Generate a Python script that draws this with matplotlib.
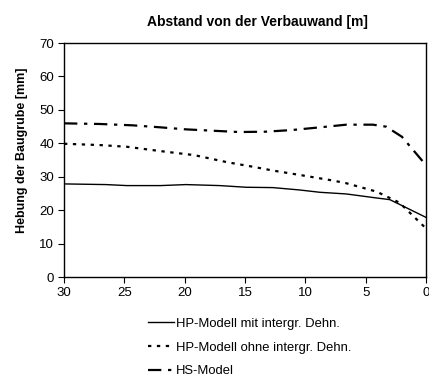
import matplotlib
matplotlib.use("Agg")
import matplotlib.pyplot as plt

plt.rcParams['font.family'] = ['Liberation Sans', 'DejaVu Sans']

# distance from the retaining wall [m]
dist_hp = [30, 26.5, 24.8, 22, 19.9, 17.1, 14.9, 12.7, 10.5, 8.8, 6.6, 4.1, 3.0, 2.2, 0]
hp_mit = [27.9, 27.7, 27.4, 27.4, 27.7, 27.4, 26.9, 26.8, 26.1, 25.4, 24.9, 23.7, 23.2, 21.8, 17.9]

dist_ohne = [30, 27.0, 24.8, 22.0, 19.2, 16.5, 14.3, 12.7, 10.5, 7.7, 6.6, 4.1, 2.2, 0]
hp_ohne = [39.9, 39.5, 39.0, 37.7, 36.5, 34.4, 33.0, 31.9, 30.6, 28.9, 28.1, 25.6, 22.3, 14.6]

dist_hs = [30, 27.0, 24.3, 22.0, 19.9, 17.7, 15.5, 13.3, 11.1, 8.8, 6.6, 4.4, 3.3, 2.0, 0]
hs_model = [46.0, 45.8, 45.4, 44.8, 44.2, 43.8, 43.4, 43.5, 44.0, 44.8, 45.6, 45.6, 45.0, 42.0, 33.5]

x_ticks = [30, 25, 20, 15, 10, 5, 0]
y_ticks = [0, 10, 20, 30, 40, 50, 60, 70]

fig = plt.figure(figsize=(4.29, 3.74), dpi=100)
ax = fig.add_axes([64 / 429, 1 - 277.3 / 374, (426 - 64) / 429, (277.3 - 43) / 374])

ax.plot(dist_hp, hp_mit, color='black', lw=1.0, ls='-',
        label='HP-Modell mit intergr. Dehn.')
ax.plot(dist_ohne, hp_ohne, color='black', lw=1.6, ls=(0, (1.5, 2.5)),
        label='HP-Modell ohne intergr. Dehn.')
ax.plot(dist_hs, hs_model, color='black', lw=1.6, ls=(0, (6, 3, 1.5, 3)),
        label='HS-Model')

ax.set_xlim(30, 0)
ax.set_ylim(0, 70)
ax.set_xticks(x_ticks)
ax.set_yticks(y_ticks)
ax.tick_params(direction='out', length=4, width=0.8, labelsize=9.5, pad=3)
for s in ax.spines.values():
    s.set_linewidth(1.0)

ax.set_ylabel('Hebung der Baugrube [mm]', fontsize=9, fontweight='bold')
ax.yaxis.set_label_coords(-0.100, 0.541)
fig.text(257 / 429, 1 - 22 / 374, 'Abstand von der Verbauwand [m]',
         ha='center', va='center', fontsize=10, fontweight='bold')

leg = fig.legend(loc='upper left', bbox_to_anchor=(141 / 429, 1 - 311 / 374),
                 frameon=False, fontsize=9.4, handlelength=2.0, handletextpad=0.2,
                 labelspacing=0.9, borderpad=0)

fig.savefig('out.png', dpi=100)
